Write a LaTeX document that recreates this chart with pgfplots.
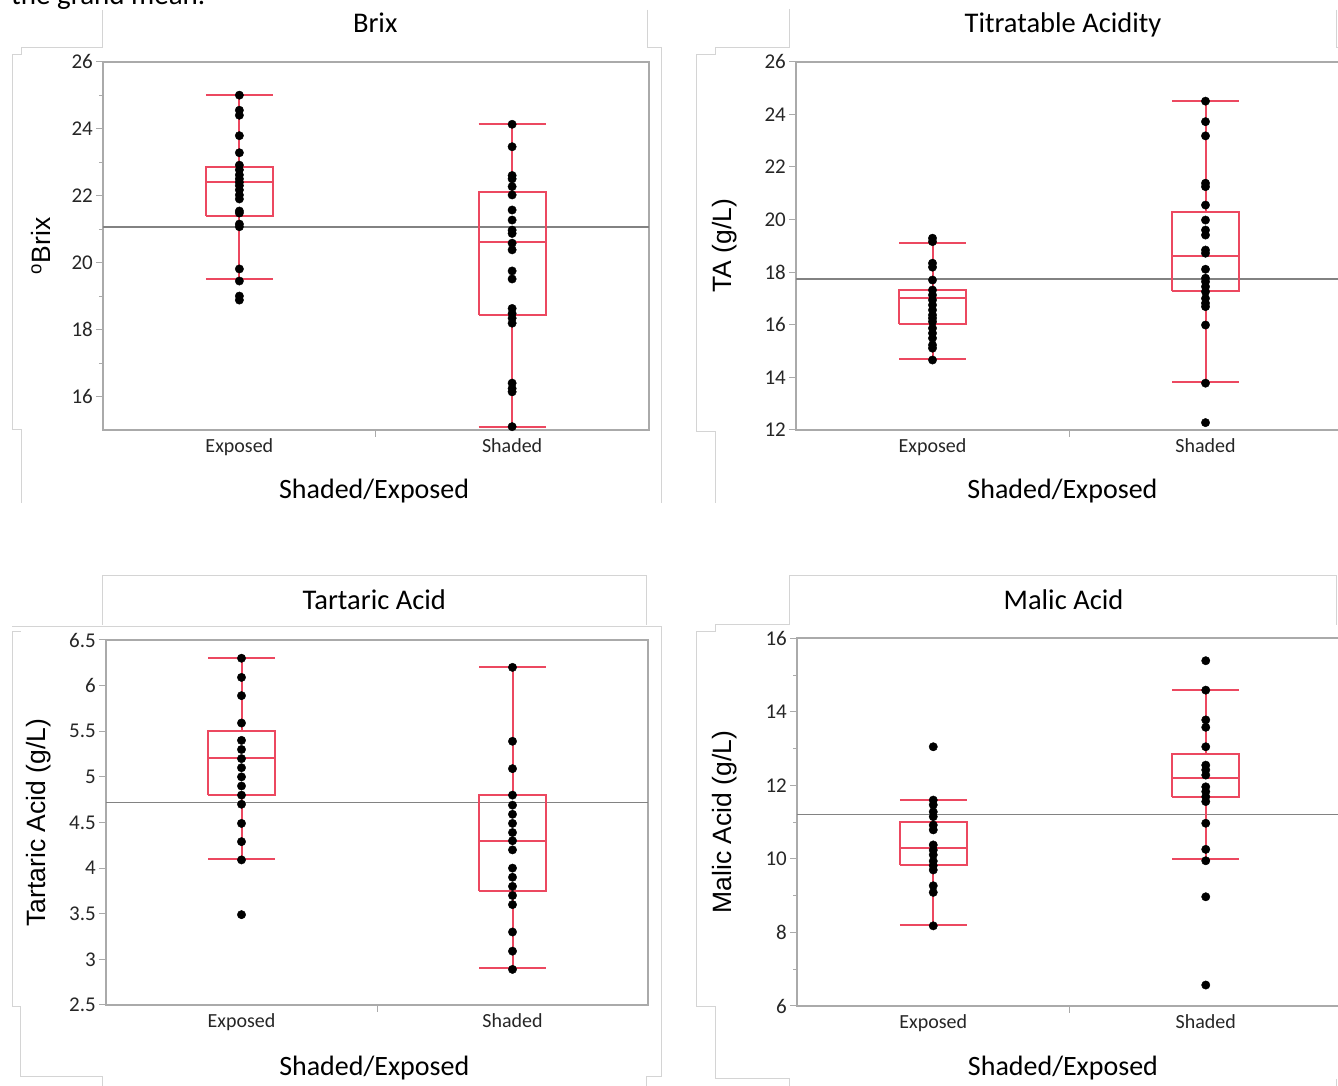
\documentclass[border=0pt]{standalone}
\usepackage{fontspec}
\setmainfont{Carlito}
\newfontfamily\labfont{Liberation Sans}
\usepackage{pgfplots}
\pgfplotsset{compat=1.18}
\definecolor{boxred}{RGB}{236,72,96}
\definecolor{meangray}{RGB}{130,130,130}
\definecolor{framegray}{RGB}{170,170,170}
\definecolor{panelline}{RGB}{212,212,212}

\pgfplotsset{
  panel/.style={
    scale only axis,
    xmin=0, xmax=2,
    axis line style={framegray, line width=2pt},
    tick style={framegray, line width=1pt},
    tick align=outside,
    xtick pos=bottom, ytick pos=left,
    xtick={1}, xticklabels={},
    major tick length=7pt, minor tick length=4pt,
    extra x ticks={0.5,1.5},
    extra x tick labels={Exposed,Shaded},
    extra x tick style={major tick length=0pt},
    tick label style={font=\fontsize{20}{24}\selectfont, black!85},
    xticklabel style={yshift=-5pt},
    yticklabel style={font=\fontsize{21}{24}\selectfont, inner sep=3pt},
    /pgf/number format/assume math mode=true,
    title style={font=\fontsize{28.5}{32}\selectfont, anchor=base},
    xlabel style={font=\fontsize{28}{32}\selectfont, anchor=base},
    ylabel style={font=\labfont\fontsize{26.5}{30}\selectfont, anchor=center},
    xlabel={Shaded/Exposed},
    unbounded coords=jump,
    clip=false,
  },
  jmpbox/.style={draw=boxred, line width=2pt, line join=miter, mark=none},
  pts/.style={only marks, mark=*, mark size=4.2pt, black},
  mean/.style={meangray, line width=1.8pt},
}

% box, median, whiskers and caps of one group
% #1 left  #2 centre  #3 right  #4 lower whisker  #5 lower quartile
% #6 median  #7 upper quartile  #8 upper whisker
\newcommand{\jmpbox}[8]{%
  \addplot[jmpbox] coordinates {
    (#1,#5)(#3,#5)(#3,#7)(#1,#7)(#1,#5) (nan,nan)
    (#1,#6)(#3,#6) (nan,nan)
    (#2,#7)(#2,#8) (nan,nan)
    (#2,#5)(#2,#4) (nan,nan)
    (#1,#8)(#3,#8) (nan,nan)
    (#1,#4)(#3,#4)
  };}

\begin{document}
\begin{tikzpicture}
\useasboundingbox (0,0) rectangle (1338pt,1086pt);
\clip (0,0) rectangle (1338pt,1086pt);

% light panel frames left over from the screenshot
\begin{scope}[panelline, line width=1pt]
\draw (102.6pt,1076pt) -- (102.6pt,1038pt) -- (21pt,1038pt) -- (21pt,1031pt) -- (12pt,1031pt) -- (12pt,656pt) -- (21pt,656pt) -- (21pt,583pt);
\draw (647.4pt,1076pt) -- (647.4pt,1038pt) -- (661.5pt,1038pt) -- (661.5pt,583pt);
\draw (789.7pt,1077pt) -- (789.7pt,1038pt) -- (715pt,1038pt) -- (715pt,1031pt) -- (696.5pt,1031pt) -- (696.5pt,654pt) -- (715pt,654pt) -- (715pt,583pt);
\draw (1336.7pt,1076pt) -- (1336.7pt,1038pt) -- (1338pt,1038pt);
\draw (102.6pt,461pt) -- (102.6pt,510pt) -- (646pt,510pt) -- (646pt,461pt);
\draw (12pt,459.3pt) -- (661.5pt,459.3pt);
\draw (20.5pt,454pt) -- (12pt,454pt) -- (12pt,79pt) -- (20.5pt,79pt) -- (20.5pt,9pt) -- (102.6pt,9pt) -- (102.6pt,0pt);
\draw (661.5pt,459.3pt) -- (661.5pt,9pt) -- (646pt,9pt) -- (646pt,0pt);
\draw (789.7pt,461pt) -- (789.7pt,510pt) -- (1336.7pt,510pt) -- (1336.7pt,461pt);
\draw (789.7pt,461pt) -- (715pt,461pt) -- (715pt,454pt) -- (696.5pt,454pt) -- (696.5pt,79pt) -- (715pt,79pt) -- (715pt,7pt) -- (789.7pt,7pt) -- (789.7pt,0pt);
\draw (1336.7pt,7pt) -- (1336.7pt,0pt);
\end{scope}
\node[anchor=base west, font=\fontsize{29}{34}\selectfont, inner sep=0pt] at (11pt,1081pt) {the grand mean.};

%% ---------------- Brix ----------------
\begin{axis}[panel,
  at={(103pt,656pt)}, anchor=south west,
  width=545.5pt, height=368.3pt,
  ymin=15, ymax=26,
  ytick={16,18,...,26}, minor ytick={17,19,...,25},
  title={Brix}, title style={at={(axis description cs:0.499,1.064)}},
  xlabel style={at={(axis description cs:0.497,-0.185)}},
  ylabel={\textsuperscript{o}Brix}, ylabel style={at={(axis description cs:-0.114,0.5)}},
]
\addplot[mean] coordinates {(0,21.07) (2,21.07)};
\addplot[pts] coordinates {
  (0.5,25.00)(0.5,24.55)(0.5,24.40)(0.5,23.79)(0.5,23.28)(0.5,22.91)(0.5,22.77)(0.5,22.62)
  (0.5,22.50)(0.5,22.40)(0.5,22.30)(0.5,22.17)(0.5,22.02)(0.5,21.90)(0.5,21.54)(0.5,21.48)
  (0.5,21.15)(0.5,21.07)(0.5,19.81)(0.5,19.45)(0.5,19.00)(0.5,18.88)
};
\addplot[pts] coordinates {
  (1.5,24.13)(1.5,23.46)(1.5,22.60)(1.5,22.50)(1.5,22.27)(1.5,22.02)(1.5,21.57)(1.5,21.27)
  (1.5,20.97)(1.5,20.87)(1.5,20.58)(1.5,20.38)(1.5,19.75)(1.5,19.51)(1.5,18.63)(1.5,18.48)
  (1.5,18.34)(1.5,18.19)(1.5,16.40)(1.5,16.24)(1.5,16.14)(1.5,15.10)
};
\jmpbox{0.3775}{0.5}{0.6225}{19.51}{21.40}{22.40}{22.86}{25.00}
\jmpbox{1.3775}{1.5}{1.6225}{15.10}{18.42}{20.61}{22.12}{24.13}
\end{axis}

%% ---------------- Titratable Acidity ----------------
\begin{axis}[panel,
  at={(796pt,656pt)}, anchor=south west,
  width=546pt, height=368.3pt,
  ymin=12, ymax=26,
  ytick={12,14,...,26},
  title={Titratable Acidity}, title style={at={(axis description cs:0.489,1.064)}},
  xlabel style={at={(axis description cs:0.488,-0.185)}},
  ylabel={TA (g/L)}, ylabel style={at={(axis description cs:-0.130,0.5)}},
]
\addplot[mean] coordinates {(0,17.73) (2,17.73)};
\addplot[pts] coordinates {
  (0.5,19.29)(0.5,19.16)(0.5,18.34)(0.5,18.19)(0.5,17.70)(0.5,17.32)(0.5,17.13)(0.5,16.94)
  (0.5,16.75)(0.5,16.56)(0.5,16.37)(0.5,16.25)(0.5,16.12)(0.5,15.87)(0.5,15.68)(0.5,15.49)
  (0.5,15.23)(0.5,15.11)(0.5,14.66)
};
\addplot[pts] coordinates {
  (1.5,24.50)(1.5,23.72)(1.5,23.18)(1.5,21.38)(1.5,21.25)(1.5,20.55)(1.5,19.98)(1.5,19.60)
  (1.5,19.41)(1.5,18.84)(1.5,18.72)(1.5,18.11)(1.5,17.77)(1.5,17.64)(1.5,17.45)(1.5,17.26)
  (1.5,17.00)(1.5,16.82)(1.5,16.69)(1.5,15.99)(1.5,13.78)(1.5,12.28)
};
\jmpbox{0.3775}{0.5}{0.6225}{14.70}{16.03}{17.03}{17.32}{19.12}
\jmpbox{1.3775}{1.5}{1.6225}{13.81}{17.28}{18.62}{20.28}{24.51}
\end{axis}

%% ---------------- Tartaric Acid ----------------
\begin{axis}[panel,
  at={(106pt,81pt)}, anchor=south west,
  width=542pt, height=365pt,
  ymin=2.5, ymax=6.5,
  ytick={2.5,3,...,6.5},
  title={Tartaric Acid}, title style={at={(axis description cs:0.495,1.068)}},
  xlabel style={at={(axis description cs:0.495,-0.192)}},
  ylabel={Tartaric Acid (g/L)}, ylabel style={at={(axis description cs:-0.124,0.5)}},
]
\addplot[mean] coordinates {(0,4.72) (2,4.72)};
\addplot[pts] coordinates {
  (0.5,6.30)(0.5,6.09)(0.5,5.89)(0.5,5.59)(0.5,5.40)(0.5,5.30)(0.5,5.20)(0.5,5.10)
  (0.5,5.00)(0.5,4.90)(0.5,4.80)(0.5,4.70)(0.5,4.49)(0.5,4.29)(0.5,4.09)(0.5,3.49)
};
\addplot[pts] coordinates {
  (1.5,6.20)(1.5,5.39)(1.5,5.09)(1.5,4.80)(1.5,4.69)(1.5,4.59)(1.5,4.49)(1.5,4.39)
  (1.5,4.30)(1.5,4.20)(1.5,4.00)(1.5,3.90)(1.5,3.80)(1.5,3.70)(1.5,3.60)(1.5,3.30)
  (1.5,3.09)(1.5,2.89)
};
\jmpbox{0.3775}{0.5}{0.6225}{4.10}{4.80}{5.21}{5.50}{6.30}
\jmpbox{1.3775}{1.5}{1.6225}{2.90}{3.75}{4.30}{4.80}{6.20}
\end{axis}

%% ---------------- Malic Acid ----------------
\begin{axis}[panel,
  at={(797pt,80pt)}, anchor=south west,
  width=545pt, height=367.7pt,
  ymin=6, ymax=16,
  ytick={6,8,...,16}, minor ytick={7,9,...,15},
  title={Malic Acid}, title style={at={(axis description cs:0.489,1.063)}},
  xlabel style={at={(axis description cs:0.488,-0.188)}},
  ylabel={Malic Acid (g/L)}, ylabel style={at={(axis description cs:-0.132,0.5)}},
]
\addplot[mean] coordinates {(0,11.21) (2,11.21)};
\addplot[pts] coordinates {
  (0.5,13.05)(0.5,11.60)(0.5,11.47)(0.5,11.28)(0.5,11.15)(0.5,10.92)(0.5,10.79)(0.5,10.38)
  (0.5,10.24)(0.5,10.11)(0.5,9.94)(0.5,9.82)(0.5,9.70)(0.5,9.27)(0.5,9.09)(0.5,8.18)
};
\addplot[pts] coordinates {
  (1.5,15.39)(1.5,14.59)(1.5,13.78)(1.5,13.58)(1.5,13.05)(1.5,12.55)(1.5,12.42)(1.5,12.28)
  (1.5,11.96)(1.5,11.83)(1.5,11.69)(1.5,11.56)(1.5,10.97)(1.5,10.26)(1.5,9.95)(1.5,8.97)
  (1.5,6.57)
};
\jmpbox{0.3775}{0.5}{0.6225}{8.20}{9.83}{10.29}{11.00}{11.60}
\jmpbox{1.3775}{1.5}{1.6225}{10.00}{11.68}{12.21}{12.85}{14.59}
\end{axis}
\end{tikzpicture}
\end{document}
